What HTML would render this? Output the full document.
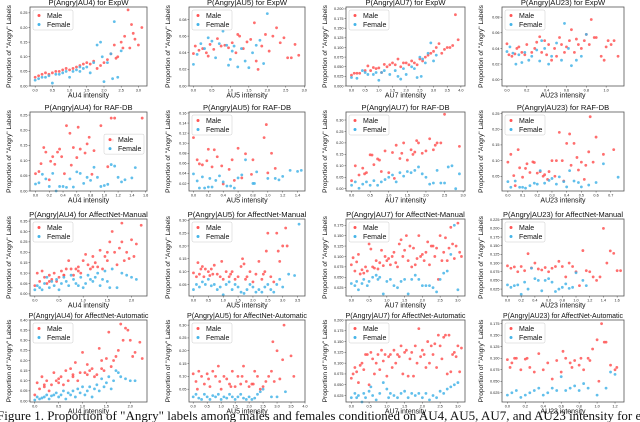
<!DOCTYPE html>
<html><head><meta charset="utf-8"><style>
body{margin:0;background:#fff;width:640px;height:422px;overflow:hidden;position:relative;}
svg{display:block;font-family:"Liberation Sans","DejaVu Sans",sans-serif;}
.capwrap{position:absolute;left:0;top:408px;width:640px;height:14px;overflow:hidden;}
.cap{font-family:"Liberation Serif",serif;font-size:13px;white-space:nowrap;color:#111;margin-left:-3px;}
</style></head><body>
<svg id="fig" width="640" height="422" viewBox="0 0 640 422"></svg>
<div class="capwrap"><div class="cap">Figure 1. Proportion of "Angry" labels among males and females conditioned on AU4, AU5, AU7, and AU23 intensity for each in the wild</div></div>
<script>
const P1_MX=[0,.1,.2,.3,.4,.5,.6,.7,.8,.9,1.0,1.1,1.2,1.3,1.4,1.5,1.6,1.7,1.8,1.9,2.0,2.1,2.2,2.3,2.4,2.5,2.6,2.7,2.75,2.8,2.85,2.9,3.0,3.1,2.55,2.35];
const P1_MY=[.03,.035,.04,.045,.04,.045,.05,.05,.055,.06,.055,.06,.065,.07,.075,.08,.075,.085,.06,.07,.08,.09,.11,.14,.1,.15,.17,.26,.13,.21,.18,.16,.14,.2,.13,.095];
const P1_FX=[0,.1,.2,.3,.4,.5,.6,.7,.8,.9,1.0,1.1,1.2,1.3,1.4,1.5,1.6,1.7,1.8,1.9,2.0,2.1,2.2,2.3,2.4,2.5,1.3,2.25,1.95];
const P1_FY=[.02,.025,.03,.03,.035,.01,.04,.04,.045,.05,.03,.05,.055,.05,.06,.065,.045,.08,.14,.15,.015,.08,.11,.22,.03,.12,.065,.025,.1];
const P2_MX=[0,.05,.15,.25,.35,.45,.55,.65,.75,.85,.95,1.05,1.15,1.25,1.35,1.45,1.55,1.65,1.75,1.85,1.95,2.05,2.15,2.25,2.35,2.45,2.55,2.65,2.75,2.85,1.7,1.2,0.4];
const P2_MY=[.039,.048,.043,.045,.04,.05,.044,.057,.048,.049,.046,.052,.04,.06,.045,.053,.056,.076,.02,.048,.062,.042,.06,.07,.052,.058,.034,.034,.05,.037,.03,.062,.036];
const P2_FX=[0,.1,.2,.3,.4,.5,.6,.7,.8,.9,1.0,1.1,1.2,1.3,1.4,1.5,1.6,1.7,1.8,1.9,2.0,.95,1.05];
const P2_FY=[.026,.038,.051,.045,.058,.054,.034,.051,.066,.049,.032,.048,.023,.045,.03,.022,.04,.049,.055,.027,.087,.025,.042];
const P3_MX=[0,.1,.2,.3,.5,.6,.7,.8,.9,1.0,1.1,1.2,1.3,1.4,1.5,1.6,1.7,1.8,1.9,2.0,2.1,2.2,2.3,2.4,2.5,2.6,2.7,2.8,2.9,3.0,3.1,3.2,3.3,3.4,3.5,3.6,3.7,3.8,3.9];
const P3_MY=[.028,.033,.033,.033,.04,.052,.04,.048,.045,.047,.035,.056,.05,.055,.06,.055,.07,.05,.06,.06,.055,.065,.06,.055,.07,.065,.075,.08,.085,.09,.1,.11,.085,.095,.1,.1,.105,.185,.12];
const P3_FX=[0,.2,.4,.5,.6,.8,.9,1.0,1.1,1.2,1.4,1.6,1.7,1.8,1.9,2.0,2.2,2.3,2.4,2.5,2.6,2.7,2.8,2.9,3.0,3.1,2.55];
const P3_FY=[.022,.02,.04,.035,.03,.03,.035,.015,.035,.04,.03,.04,.025,.018,.045,.03,.05,.045,.022,.075,.07,.06,.085,.112,.065,.08,.025];
const P4_MX=[0,.02,.05,.08,.1,.12,.15,.18,.2,.25,.28,.3,.33,.35,.38,.4,.42,.45,.48,.5,.53,.55,.58,.6,.63,.65,.68,.7,.72,.75,.78,.8,.83,.85,.88,.9,.95,.98,1.0,1.02,1.05,1.08,1.12];
const P4_MY=[.046,.032,.03,.033,.04,.042,.035,.032,.045,.035,.04,.048,.055,.035,.05,.032,.045,.025,.04,.03,.054,.045,.035,.042,.05,.064,.035,.052,.045,.04,.05,.058,.045,.077,.054,.054,.03,.025,.042,.05,.045,.05,.03];
const P4_FX=[0,.03,.06,.09,.12,.15,.18,.22,.25,.3,.33,.35,.38,.42,.45,.5,.55,.58,.62,.65,.7,.75,.8];
const P4_FY=[.036,.042,.034,.02,.032,.022,.035,.025,.03,.038,.024,.05,.04,.02,.03,.047,.025,.072,.04,.018,.025,.03,.058];
const P5_MX=[0,.05,.08,.12,.15,.2,.22,.25,.28,.32,.35,.38,.42,.45,.5,.52,.55,.6,.62,.65,.72,.75,.78,.82,.85,.95,1.05,1.1,1.12,1.15,1.55];
const P5_MY=[.057,.064,.09,.143,.128,.037,.098,.113,.088,.128,.138,.113,.057,.215,.19,.085,.143,.11,.21,.138,.125,.155,.177,.055,.133,.215,.08,.24,.167,.24,.24];
const P5_FX=[0,.05,.1,.15,.2,.25,.3,.35,.4,.45,.5,.55,.6,.65,.7,.75,.8,.85,.9,.95,1.0,1.05,1.1,1.15,1.2,1.25,1.3,1.4,1.45];
const P5_FY=[.023,.027,.055,.04,.015,.058,0,.015,.015,.012,.04,.013,.063,.058,.025,.045,.035,.078,.045,.015,.018,.022,.087,.082,.045,.03,.037,.043,.077];
const P6_MX=[0,.05,.08,.12,.18,.2,.25,.28,.32,.38,.4,.48,.52,.55,.6,.65,.7,.78,.8,.95,.98,1.0,1.05,1.1];
const P6_MY=[.111,.067,.059,.057,.065,.088,.053,.087,.073,.055,.019,.048,.067,.026,.09,.031,.079,.038,.067,.111,.137,.041,.08,.05];
const P6_FX=[0,.05,.08,.12,.15,.2,.22,.25,.3,.35,.4,.45,.5,.55,.6,.65,.7,.8,.82,.85,1.0,1.1,1.15,1.2,1.3,1.4,1.45];
const P6_FY=[.039,.025,.011,.033,.011,.013,.03,.013,.026,.035,.023,.015,.015,.011,.031,.037,.067,.02,.02,.043,.03,.03,.027,.034,.046,.044,.046];
const P7_MX=[0,.1,.2,.3,.35,.4,.5,.55,.6,.7,.75,.8,.9,1.0,1.1,1.15,1.2,1.3,1.35,1.4,1.5,1.6,1.65,1.7,1.75,1.8,1.9,2.0,2.1,2.2,2.25,2.3,2.4,2.5,2.9];
const P7_MY=[.035,.1,.06,.09,.065,.07,.148,.147,.105,.13,.125,.075,.165,.07,.158,.045,.19,.132,.155,.2,.125,.17,.15,.16,.21,.2,.155,.165,.218,.17,.19,.2,.2,.325,.185];
const P7_FX=[0,.1,.2,.3,.4,.5,.6,.7,.8,.9,1.0,1.1,1.2,1.3,1.4,1.5,1.6,1.7,1.8,1.9,2.0,2.1,2.2,2.3,2.4,2.5,2.6,2.7,2.8,2.9];
const P7_FY=[.015,.03,.002,.02,.03,.015,.035,.015,.03,.04,.05,.06,.03,.07,.055,.075,.07,.08,.095,.065,.05,.02,.025,.08,.025,.025,.095,.1,0,.065];
const P8_MX=[0,.02,.04,.05,.07,.08,.1,.12,.13,.15,.17,.18,.2,.22,.24,.25,.27,.28,.3,.32,.33,.35,.37,.38,.4,.42,.43,.45,.47,.48,.5,.52,.53,.55,.56,.58,.6,.65,.72];
const P8_MY=[.095,.12,.052,.02,.135,.077,.047,.075,.09,.062,.096,.094,.06,.065,.05,.055,.04,.065,.1,.05,.1,.19,.1,.035,.155,.185,.085,.155,.11,.07,.095,.04,.085,.128,.24,.095,.175,.12,.135];
const P8_FX=[0,.02,.05,.08,.1,.12,.15,.18,.2,.22,.25,.28,.3,.33,.35,.38,.4,.42,.45,.48,.5,.55,.6,.65,.75];
const P8_FY=[.033,.015,.035,.015,.015,.012,.02,.028,.025,.068,.028,.037,.043,.025,.048,.033,.016,.068,.035,.03,.016,.022,.03,.09,.047];
const P9_MX=[0,.05,.1,.15,.2,.25,.3,.35,.4,.45,.5,.55,.6,.65,.7,.75,.8,.85,.9,.95,1.0,1.05,1.1,1.15,1.2,1.25,1.3,1.35,1.4,1.45,1.5,1.55,1.6,1.65,1.7,1.75,1.8,1.85,1.9,1.95,2.0,2.05,2.1,2.2,.3,.6,.9,1.2,1.5,1.8];
const P9_MY=[.04,.1,.06,.11,.08,.05,.09,.07,.1,.06,.08,.11,.09,.12,.16,.12,.09,.12,.13,.1,.16,.19,.14,.12,.18,.15,.13,.21,.12,.18,.16,.25,.3,.2,.14,.22,.34,.16,.2,.17,.26,.18,.24,.33,.06,.09,.11,.13,.2,.25];
const P9_FX=[0,.05,.1,.15,.2,.25,.3,.35,.4,.45,.5,.55,.6,.65,.7,.75,.8,.85,.9,.95,1.0,1.05,1.1,1.15,1.2,1.25,1.3,1.35,1.4,1.45,1.5,1.55,1.6,1.7,1.8,1.9,2.0,2.1];
const P9_FY=[.02,.04,.03,.02,.05,.08,.03,.06,.04,.07,.02,.05,.08,.06,.04,.09,.07,.05,.04,.08,.03,.05,.09,.07,.06,.08,.1,.04,.07,.11,.06,.03,.12,.03,.1,.09,.08,.07];
const P10_MX=[0,.1,.15,.2,.3,.35,.4,.5,.55,.6,.7,.8,.9,.95,1.0,1.1,1.2,1.3,1.4,1.5,1.6,1.65,1.7,1.8,1.9,2.0,2.1,2.2,2.3,2.4,2.45,2.5,2.6,2.7,2.8,2.85,2.9,3.0,3.1,3.15,.25,.65,1.25,1.75,2.35];
const P10_MY=[.095,.08,.135,.09,.12,.08,.11,.1,.085,.11,.125,.09,.08,.14,.07,.1,.08,.1,.07,.08,.12,.15,.13,.08,.1,.06,.09,.14,.07,.1,.18,.25,.08,.06,.25,.18,.14,.2,.27,.2,.11,.09,.09,.07,.09];
const P10_FX=[0,.1,.2,.3,.4,.5,.6,.7,.8,.9,1.0,1.1,1.2,1.3,1.4,1.5,1.6,1.7,1.8,1.9,2.0,2.1,2.2,2.3,2.4,2.5,2.6,2.7,2.8,2.9,3.0,3.2,3.4,3.55];
const P10_FY=[.03,.05,.04,.06,.05,.07,.045,.05,.03,.04,.01,.05,.06,.03,.05,.04,.02,.015,.03,.05,.04,.02,.03,.02,.04,.05,.03,.02,.05,.07,.04,.09,.085,.285];
const P11_MX=[0,.05,.1,.15,.2,.25,.3,.35,.4,.45,.5,.55,.6,.65,.7,.75,.8,.85,.9,.95,1.0,1.05,1.1,1.15,1.2,1.25,1.3,1.35,1.4,1.45,1.5,1.55,1.6,1.65,1.7,1.75,1.8,1.85,1.9,1.95,2.0,2.05,2.1,2.15,2.2,2.25,2.3,2.35,2.4,2.45,2.5,2.55,2.6,2.65,2.7,2.75,2.8,2.85,2.9,2.95,3.0,3.05,3.1];
const P11_MY=[.08,.097,.065,.087,.105,.058,.068,.06,.075,.065,.13,.118,.075,.072,.09,.07,.085,.115,.078,.1,.09,.095,.08,.1,.11,.085,.075,.13,.14,.1,.115,.15,.09,.125,.075,.12,.08,.095,.15,.1,.105,.09,.11,.135,.08,.125,.125,.1,.12,.045,.15,.09,.11,.145,.09,.12,.17,.13,.095,.125,.18,.11,.1];
const P11_FX=[0,.1,.15,.2,.3,.35,.45,.5,.6,.7,.75,.8,.9,1.0,1.1,1.2,1.3,1.4,1.5,1.6,1.7,1.8,1.9,2.0,2.1,2.2,2.3,2.4,2.5,2.6,2.7,2.8,2.9,3.0];
const P11_FY=[.035,.03,.04,.02,.035,.045,.03,.04,.05,.055,.045,.05,.01,.04,.045,.03,.025,.04,.045,.01,.045,.055,.045,.03,.03,.03,.025,.015,.045,.06,.065,.105,.175,.02];
const P12_MX=[0,.05,.1,.15,.2,.25,.3,.35,.4,.45,.5,.55,.6,.65,.7,.75,.8,.85,.9,.95,1.0,1.05,1.1,1.15,1.2,1.25,1.3,1.35,1.4,1.45,1.5,1.55,1.6,1.65];
const P12_MY=[.092,.085,.089,.075,.09,.078,.127,.086,.1,.083,.08,.087,.075,.085,.09,.105,.09,.06,.1,.09,.075,.035,.136,.078,.075,.06,.05,.06,.2,.1,.135,.128,.078,.078];
const P12_FX=[0,.05,.1,.15,.2,.25,.3,.35,.4,.45,.5,.55,.6,.65,.7,.75,.8,.85,.9,.95,1.0,1.1,1.15];
const P12_FY=[.037,.03,.035,.037,.01,.045,.025,.085,.055,.05,.02,.05,.055,.045,.018,.025,.03,.04,.027,.03,.072,.05,.035];
const P13_MX=[0,.05,.1,.15,.2,.25,.3,.35,.4,.45,.5,.55,.6,.65,.7,.75,.8,.85,.9,.95,1.0,1.05,1.1,1.15,1.2,1.25,1.3,1.35,1.4,1.45,1.5,1.55,1.6,1.65,1.7,1.75,1.8,1.85,1.9,1.95,2.0,2.05,2.1,2.2,2.25,.2,.5,.8,1.1,1.4];
const P13_MY=[.03,.09,.06,.12,.08,.1,.05,.08,.14,.1,.11,.12,.08,.15,.1,.16,.13,.19,.1,.14,.24,.14,.18,.15,.16,.12,.13,.26,.2,.15,.21,.34,.17,.2,.22,.25,.38,.3,.36,.35,.3,.22,.24,.29,.21,.07,.09,.12,.13,.16];
const P13_FX=[0,.05,.1,.15,.2,.25,.3,.35,.4,.45,.5,.55,.6,.65,.7,.75,.8,.85,.9,.95,1.0,1.05,1.1,1.15,1.2,1.25,1.3,1.35,1.4,1.45,1.5,1.55,1.6,1.65,1.7,1.75,1.8,1.9,2.0,2.1];
const P13_FY=[.005,.02,.01,.015,.02,.03,.01,.025,.03,.04,.02,.03,.05,.01,.04,.03,.05,.02,.06,.04,.07,.03,.05,.07,.02,.06,.08,.05,.11,.07,.09,.12,.06,.1,.15,.14,.12,.11,.1,.1];
const P14_MX=[0,.1,.2,.3,.4,.5,.6,.7,.8,.9,1.0,1.1,1.2,1.3,1.4,1.5,1.6,1.7,1.8,1.9,2.0,2.1,2.2,2.3,2.4,2.5,2.6,2.7,2.8,2.85,2.9,3.0,3.1,3.2,3.25,3.5,3.6,.15,.55,.95,1.35,1.75,2.15];
const P14_MY=[.11,.08,.12,.1,.07,.11,.06,.12,.1,.14,.05,.1,.09,.07,.12,.06,.1,.07,.14,.08,.06,.07,.12,.1,.05,.06,.08,.1,.12,.235,.08,.2,.09,.165,.3,.18,.1,.05,.09,.08,.06,.1,.07];
const P14_FX=[0,.1,.2,.3,.4,.5,.6,.7,.8,.9,1.0,1.1,1.2,1.3,1.4,1.5,1.6,1.7,1.8,1.9,2.0,2.1,2.2,2.3,2.4,2.5,2.8,3.0,3.3];
const P14_FY=[.02,.03,.015,.01,.03,.02,.01,.025,.02,.03,.01,.02,.015,.03,.02,.01,.02,.03,.015,.01,.02,.01,.015,.03,.04,.05,.02,.02,.04];
const P15_MX=[0,.05,.1,.15,.2,.25,.3,.35,.4,.45,.5,.55,.6,.65,.7,.75,.8,.85,.9,.95,1.0,1.05,1.1,1.15,1.2,1.25,1.3,1.35,1.4,1.45,1.5,1.55,1.6,1.65,1.7,1.75,1.8,1.85,1.9,1.95,2.0,2.05,2.1,2.15,2.2,2.25,2.3,2.35,2.4,2.45,2.5,2.55,2.6,2.65,2.7,2.75,2.8,2.85,2.9,2.95,3.0,3.05,3.1];
const P15_MY=[.065,.075,.09,.08,.055,.095,.1,.085,.12,.12,.05,.125,.11,.075,.1,.12,.085,.13,.105,.12,.07,.115,.12,.09,.13,.1,.12,.115,.14,.075,.125,.13,.07,.11,.125,.07,.14,.1,.18,.115,.13,.12,.09,.15,.1,.14,.12,.145,.09,.165,.14,.11,.16,.165,.075,.165,.08,.12,.125,.115,.14,.08,.135];
const P15_FX=[0,.1,.15,.2,.3,.35,.4,.5,.55,.6,.7,.8,.9,1.0,1.05,1.1,1.2,1.3,1.4,1.5,1.6,1.7,1.8,1.9,2.0,2.1,2.2,2.3,2.4,2.5,2.6,2.7,2.8,2.9,3.0];
const P15_FY=[.02,.03,.02,.025,.01,.03,.02,.035,.045,.025,.015,.03,.055,.04,.02,.03,.025,.02,.03,.035,.02,.03,.025,.03,.02,.03,.015,.025,.02,.035,.03,.04,.045,.05,.055];
const P16_MX=[0,.03,.05,.08,.1,.15,.2,.22,.25,.3,.35,.4,.45,.5,.55,.6,.62,.65,.7,.72,.75,.8,.82,.85,.9,.92,.95,1.0,1.02,1.05,1.08,1.1,1.15,1.2,1.22];
const P16_MY=[.097,.08,.09,.1,.1,.075,.098,.1,.08,.07,.11,.075,.09,.055,.095,.07,.115,.1,.09,.08,.095,.085,.1,.075,.1,.095,.12,.14,.05,.175,.135,.135,.085,.075,.08];
const P16_FX=[0,.05,.1,.15,.2,.25,.3,.35,.4,.45,.5,.55,.6,.65,.7,.75,.8,.85,.9,1.0,1.1,1.15,1.2];
const P16_FY=[.02,.025,.03,.015,.02,.025,.03,.035,.02,.025,.035,.03,.06,.03,.035,.04,.03,.045,.035,.02,.035,.07,.065];

const X_TICKS_A=[0,0.5,1.0,1.5,2.0,2.5,3.0];
const X_TICKS_B=[0,0.5,1.0,1.5,2.0,2.5,3.0,3.5,4.0];
const X_TICKS_C=[0,0.2,0.4,0.6,0.8,1.0];
const X_TICKS_D=[0,0.2,0.4,0.6,0.8,1.0,1.2,1.4,1.6];
const X_TICKS_E=[0,0.5,1.0,1.5,2.0];
const X_TICKS_F=[0,0.1,0.2,0.3,0.4,0.5,0.6,0.7];
const X_TICKS_G=[0,0.5,1.0,1.5,2.0,2.5,3.0,3.5];
const X_TICKS_H=[0,0.2,0.4,0.6,0.8,1.0,1.2];

const datasets=["ExpW","RAF-DB","AffectNet-Manual","AffectNet-Automatic"];
const aus=["AU4","AU5","AU7","AU23"];
const COLS=[[30,147],[189,305],[346,465],[502,624]];
const ROWS=[[7,86],[112,191],[219,296],[320,402]];

const panels=[
 [P1_MX,P1_MY,P1_FX,P1_FY,[-0.15,3.25],[0,0.27],X_TICKS_A,[0,.05,.1,.15,.2,.25],2,'tl'],
 [P2_MX,P2_MY,P2_FX,P2_FY,[-0.12,3.02],[0,0.095],X_TICKS_A,[0,.02,.04,.06,.08],2,'tl'],
 [P3_MX,P3_MY,P3_FX,P3_FY,[-0.2,4.15],[0,0.205],X_TICKS_B,[0,.025,.05,.075,.1,.125,.15,.175,.2],3,'tl'],
 [P4_MX,P4_MY,P4_FX,P4_FY,[-0.05,1.18],[-0.008,0.093],X_TICKS_C,[0,.02,.04,.06,.08],2,'tl'],
 [P5_MX,P5_MY,P5_FX,P5_FY,[-0.08,1.62],[0,0.26],X_TICKS_D,[0,.05,.1,.15,.2,.25],2,'mr'],
 [P6_MX,P6_MY,P6_FX,P6_FY,[-0.06,1.5],[0.005,0.162],X_TICKS_D.slice(0,8),[.02,.04,.06,.08,.1,.12,.14,.16],2,'tl'],
 [P7_MX,P7_MY,P7_FX,P7_FY,[-0.15,3.05],[-0.01,0.335],X_TICKS_A,[0,.05,.1,.15,.2,.25,.3],2,'tl'],
 [P8_MX,P8_MY,P8_FX,P8_FY,[-0.04,0.79],[0.003,0.255],X_TICKS_F,[.05,.1,.15,.2,.25],2,'tl'],
 [P9_MX,P9_MY,P9_FX,P9_FY,[-0.1,2.32],[-0.01,0.36],X_TICKS_E,[0,.05,.1,.15,.2,.25,.3,.35],2,'tl'],
 [P10_MX,P10_MY,P10_FX,P10_FY,[-0.15,3.75],[0.005,0.305],X_TICKS_G,[.05,.1,.15,.2,.25,.3],2,'tl'],
 [P11_MX,P11_MY,P11_FX,P11_FY,[-0.15,3.2],[0.005,0.19],X_TICKS_A,[.025,.05,.075,.1,.125,.15,.175],3,'tl'],
 [P12_MX,P12_MY,P12_FX,P12_FY,[-0.08,1.7],[0.005,0.227],X_TICKS_D,[.025,.05,.075,.1,.125,.15,.175,.2,.225],3,'tl'],
 [P13_MX,P13_MY,P13_FX,P13_FY,[-0.1,2.35],[-0.005,0.4],X_TICKS_E,[0,.05,.1,.15,.2,.25,.3,.35,.4],2,'tl'],
 [P14_MX,P14_MY,P14_FX,P14_FY,[-0.15,4.0],[0.0,0.32],X_TICKS_B,[.05,.1,.15,.2,.25,.3],2,'tl'],
 [P15_MX,P15_MY,P15_FX,P15_FY,[-0.15,3.2],[0.01,0.2],X_TICKS_A,[.025,.05,.075,.1,.125,.15,.175,.2],3,'tl'],
 [P16_MX,P16_MY,P16_FX,P16_FY,[-0.06,1.3],[0.005,0.183],X_TICKS_H,[.025,.05,.075,.1,.125,.15,.175],3,'tl']
];

const NS="http://www.w3.org/2000/svg";
const svg=document.getElementById('fig');
function mk(tag,attrs,parent){const e=document.createElementNS(NS,tag);for(const k in attrs)e.setAttribute(k,attrs[k]);(parent||svg).appendChild(e);return e;}
const RED="#ff5555",BLUE="#45b4e8";

panels.forEach((p,i)=>{
 const r=Math.floor(i/4),c=i%4;
 const [x0,x1]=COLS[c],[y0,y1]=ROWS[r];
 const [mx,my,fx,fy,xd,yd,xt,yt,dec,leg]=p;
 const sx=v=>x0+(v-xd[0])/(xd[1]-xd[0])*(x1-x0);
 const sy=v=>y1-(v-yd[0])/(yd[1]-yd[0])*(y1-y0);
 const g=mk('g',{});
 
 
 const title='P(Angry|'+aus[c]+') for '+datasets[r];
 const t=mk('text',{x:(x0+x1)/2,y:y0-2,'font-size':'7.6','text-anchor':'middle',fill:'#111'},g);
 if(title.length>30){t.setAttribute('textLength',Math.min(120,title.length*3.6));t.setAttribute('lengthAdjust','spacingAndGlyphs');}
 t.textContent=title;
 
 
 xt.forEach(v=>{
  const X=sx(v);
  mk('line',{x1:X,x2:X,y1:y1,y2:y1+1.5,stroke:'#333','stroke-width':.5},g);
  const tx=mk('text',{x:X,y:y1+5.5,'font-size':'3.8','text-anchor':'middle',fill:'#222'},g);
  tx.textContent=v.toFixed(1);
  
  
 });
 yt.forEach(v=>{
  const Y=sy(v);
  mk('line',{x1:x0-1.5,x2:x0,y1:Y,y2:Y,stroke:'#333','stroke-width':.5},g);
  const ty=mk('text',{x:x0-2.5,y:Y+1.3,'font-size':'3.8','text-anchor':'end',fill:'#222'},g);
  ty.textContent=v.toFixed(dec);
  
  
 });
 const xl=mk('text',{x:(x0+x1)/2,y:y1+11.5,'font-size':'7','text-anchor':'middle',fill:'#111'},g);
 xl.textContent=aus[c]+' intensity';
 
 
 const yl=mk('text',{x:0,y:0,'font-size':'6.6','text-anchor':'middle',fill:'#111',transform:'translate('+(x0-19)+','+((y0+y1)/2)+') rotate(-90)'},g);
 yl.textContent='Proportion of "Angry" Labels';
 
 
 const series=[[mx,my,RED,'male'],[fx,fy,BLUE,'female']];
 series.forEach(([xs,ys,col,nm])=>{
  xs.forEach((v,k)=>{
   const d=mk('circle',{cx:sx(v),cy:sy(ys[k]),r:1.4,fill:col,'fill-opacity':.85},g);
   
   
  });
 });
 mk('rect',{x:x0,y:y0,width:x1-x0,height:y1-y0,fill:'none',stroke:'#555','stroke-width':.8},g);
 const lw=40,lh=20;
 const lx=leg==='tl'?x0+3:x1-lw-3, ly=leg==='tl'?y0+3:y0+(y1-y0)*0.28;
 const lg=mk('g',{},g);
 
 
 mk('rect',{x:lx,y:ly,width:lw,height:lh,rx:1.5,fill:'#fff','fill-opacity':.85,stroke:'#ccc','stroke-width':.5},lg);
 [['Male',RED],['Female',BLUE]].forEach(([lab,col],k)=>{
  const e=mk('circle',{cx:lx+6,cy:ly+5.5+k*9,r:1.5,fill:col},lg);
  
  
  const tt=mk('text',{x:lx+14,y:ly+8+k*9,'font-size':'7',fill:'#111'},lg);
  tt.textContent=lab;
  
  
 });
});
</script>
</body></html>
